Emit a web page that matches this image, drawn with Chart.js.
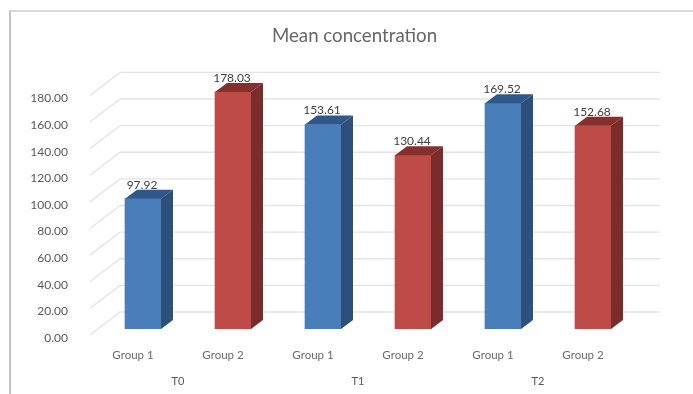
<!DOCTYPE html>
<html lang="en">

<head>
    <meta charset="UTF-8">
    <title>Mean concentration</title>
    <script src="https://cdn.jsdelivr.net/npm/chart.js"></script>
    <style>
        html,
        body {
            margin: 0;
            padding: 0;
            background: #ffffff;
        }

        #wrap {
            position: relative;
            width: 693px;
            height: 394px;
            overflow: hidden;
        }

        #frame {
            position: absolute;
            left: 9px;
            top: 10px;
            width: 700px;
            height: 400px;
            border: 2px solid #d8d8d8;
            border-left-color: #c4c4c4;
        }

        canvas {
            position: absolute;
            left: 0;
            top: 0;
            filter: blur(0.35px);
        }
    </style>
</head>

<body>
    <div id="wrap">
        <div id="frame"></div>
        <canvas id="meanChart" width="693" height="394"></canvas>
    </div>

    <script type="text/javascript">
        const chartTitle = 'Mean concentration';
        const groupLabels = ['Group 1', 'Group 2', 'Group 1', 'Group 2', 'Group 1', 'Group 2'];
        const timeLabels = ['T0', 'T1', 'T2'];
        const meanValues = [97.92, 178.03, 153.61, 130.44, 169.52, 152.68];
        const frontColors = ['#4a7ebb', '#be4b48'];
        const sideColors = ['#2c4f7c', '#7a2c2a'];
        const topColors = ['#2f5789', '#86302e'];

        const fontName = 'Lato, sans-serif';
        const depthX = 12; // how far the bars go back
        const depthY = 9;

        // 3D look: back wall lines, side and top of each bar, labels under the bars
        const wallPlugin = {
            id: 'wall',
            beforeDatasetsDraw(chart) {
                const c = chart.ctx;
                const y = chart.scales.y;
                c.save();
                c.strokeStyle = '#e4e4e4';
                c.lineWidth = 1.4;
                y.ticks.forEach(t => {
                    const py = y.getPixelForValue(t.value);
                    c.beginPath();
                    c.moveTo(90, py + 6);
                    c.lineTo(120, py - 17);
                    c.lineTo(660, py - 17);
                    c.stroke();
                });
                c.restore();
            },
            afterDatasetsDraw(chart) {
                const c = chart.ctx;
                const bars = chart.getDatasetMeta(0).data;
                c.save();
                bars.forEach((bar, i) => {
                    const left = bar.x - bar.width / 2;
                    const right = bar.x + bar.width / 2;
                    const k = i % 2;

                    c.fillStyle = '#404040';
                    c.font = '12px ' + fontName;
                    c.textAlign = 'center';
                    c.textBaseline = 'middle';
                    c.fillText(meanValues[i].toFixed(2), bar.x - 1, bar.y - 14);

                    c.fillStyle = sideColors[k];
                    c.beginPath();
                    c.moveTo(right, bar.y);
                    c.lineTo(right + depthX, bar.y - depthY);
                    c.lineTo(right + depthX, bar.base - depthY);
                    c.lineTo(right, bar.base);
                    c.closePath();
                    c.fill();

                    c.fillStyle = topColors[k];
                    c.beginPath();
                    c.moveTo(left, bar.y);
                    c.lineTo(left + depthX, bar.y - depthY);
                    c.lineTo(right + depthX, bar.y - depthY);
                    c.lineTo(right, bar.y);
                    c.closePath();
                    c.fill();
                });

                // T0, T1, T2 under each pair of groups
                const x = chart.scales.x;
                c.fillStyle = '#595959';
                c.font = '11px ' + fontName;
                c.textAlign = 'center';
                c.textBaseline = 'middle';
                timeLabels.forEach((label, i) => {
                    const mid = (x.getPixelForValue(i * 2) + x.getPixelForValue(i * 2 + 1)) / 2;
                    c.fillText(label, mid - 10, 381);
                });

                // title sits off the plot centre, so the title plugin can't place it
                c.fillStyle = '#666666';
                c.font = '18.7px ' + fontName;
                c.fillText(chartTitle, 354.5, 36);
                c.restore();
            }
        };

        const ctx = document.getElementById('meanChart').getContext('2d');
        const meanChart = new Chart(ctx, {
            type: 'bar',
            data: {
                labels: groupLabels,
                datasets: [{
                    data: meanValues,
                    backgroundColor: meanValues.map((v, i) => frontColors[i % 2]),
                    barThickness: 36
                }]
            },
            plugins: [wallPlugin],
            options: {
                responsive: false,
                animation: false,
                layout: {
                    padding: { left: 15, right: 55, top: 89.4, bottom: 0 }
                },
                plugins: {
                    legend: { display: false },
                    tooltip: { enabled: false }
                },
                scales: {
                    x: {
                        grid: { display: false },
                        border: { display: false },
                        afterFit: scale => { scale.height = 65; },
                        ticks: {
                            color: '#6b6b6b',
                            font: { family: fontName, size: 11.5 },
                            padding: 11,
                            labelOffset: -10,
                            maxRotation: 0,
                            autoSkip: false
                        }
                    },
                    y: {
                        min: 0,
                        max: 180,
                        grid: { display: false },
                        border: { display: false },
                        afterFit: scale => { scale.width = 83; },
                        ticks: {
                            stepSize: 20,
                            color: '#595959',
                            font: { family: fontName, size: 12 },
                            padding: 22,
                            labelOffset: 9,
                            callback: v => v.toFixed(2)
                        }
                    }
                }
            }
        });
    </script>

</body>

</html>
